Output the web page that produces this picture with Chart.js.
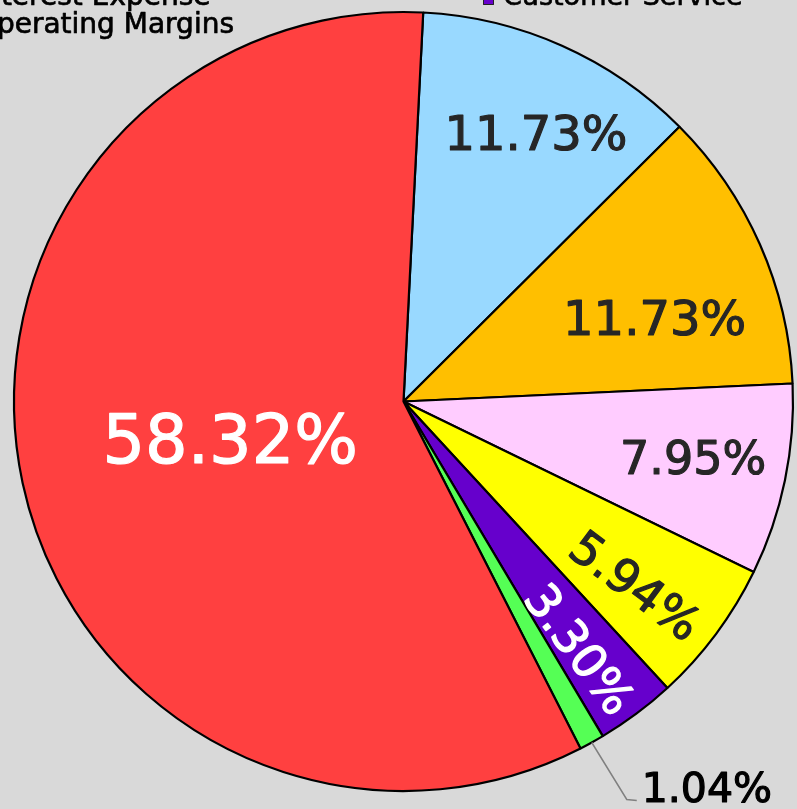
<!DOCTYPE html>
<html><head><meta charset="utf-8">
<script src="https://cdn.jsdelivr.net/npm/chart.js@4.4.0/dist/chart.umd.min.js"></script>
<style>html,body{margin:0;padding:0;background:#d9d9d9;overflow:hidden}#wrap{width:797px;height:809px;position:relative}</style>
</head><body><div id="wrap"><canvas id="c" width="797" height="809" style="width:797px;height:809px"></canvas></div>
<script>
// ---- data ----
const categories = ["Salaries", "Rent & Utilities", "Marketing", "Interest Expense", "Customer Service", "Operating Margins", "Cost of Goods Sold"];
const values = [11.73, 11.73, 7.95, 5.94, 3.30, 1.04, 58.32];
const valueLabels = ["11.73%", "11.73%", "7.95%", "5.94%", "3.30%", "1.04%", "58.32%"];
const legendLeftColumn = ["Interest Expense", "Operating Margins"];
const legendRightColumn = ["Customer Service"];

// ---- styles ----
const colors = ['#99D9FF', '#FFBF00', '#FFCCFF', '#FFFF00', '#6600CC', '#55FF55', '#FF4040'];
const labelColors = ['#262626', '#262626', '#262626', '#262626', '#FFFFFF', '#000000', '#FFFFFF'];
const labelSizes = [48, 48, 46, 47, 47, 41, 67];
const labelRadius = [0.77, 0.68, 0.757, 0.76, 0.78, null, 0.455];
const labelShift = [2.2, 5.2, -0.8, 1.6, 1.1, 0, 0];
const labelRotate = [false, false, false, true, true, false, false];
const FONT = '"DejaVu Sans", "Liberation Sans", sans-serif';

function heavyText(ctx, t, x, y, w) {
  ctx.lineWidth = w;
  ctx.lineJoin = 'round';
  ctx.strokeStyle = ctx.fillStyle;
  ctx.strokeText(t, x, y);
  ctx.fillText(t, x, y);
}

const labelPlugin = {
  id: 'sliceLabels',
  afterDatasetsDraw(chart) {
    const ctx = chart.ctx;
    const meta = chart.getDatasetMeta(0);
    meta.data.forEach((arc, i) => {
      const p = arc.getProps(['x', 'y', 'startAngle', 'endAngle', 'outerRadius'], true);
      const mid = (p.startAngle + p.endAngle) / 2;
      const size = labelSizes[i];
      ctx.save();
      ctx.font = size + 'px ' + FONT;
      if (labelRadius[i] === null) {
        const ex = p.x + p.outerRadius * Math.cos(mid);
        const ey = p.y + p.outerRadius * Math.sin(mid);
        const bx = ex + 35, by = ey + 57;
        const fx = bx + 10, fy = by + 1;
        ctx.strokeStyle = '#808080';
        ctx.lineWidth = 1.5;
        ctx.beginPath();
        ctx.moveTo(ex, ey); ctx.lineTo(bx, by); ctx.lineTo(fx, fy);
        ctx.stroke();
        ctx.fillStyle = labelColors[i];
        ctx.textAlign = 'left';
        ctx.textBaseline = 'alphabetic';
        heavyText(ctx, valueLabels[i], fx + 5, fy + 2, 1.2);
      } else {
        const a = mid + labelShift[i] * Math.PI / 180;
        const r = p.outerRadius * labelRadius[i];
        const cx = p.x + r * Math.cos(a);
        const cy = p.y + r * Math.sin(a);
        ctx.translate(cx, cy);
        if (labelRotate[i]) ctx.rotate(mid);
        ctx.fillStyle = labelColors[i];
        ctx.textAlign = 'center';
        ctx.textBaseline = 'alphabetic';
        heavyText(ctx, valueLabels[i], 0, 0.365 * size, 1.2);
      }
      ctx.restore();
    });
  }
};

const legendPlugin = {
  id: 'croppedLegend',
  afterDraw(chart) {
    const ctx = chart.ctx;
    ctx.save();
    ctx.textAlign = 'left';
    ctx.textBaseline = 'alphabetic';
    const rowBase = [5, 33];
    ctx.font = '28px ' + FONT;
    ctx.fillStyle = '#000';
    const leftX = 234 - ctx.measureText(legendLeftColumn[1]).width;
    legendLeftColumn.forEach((t, k) => heavyText(ctx, t, leftX, rowBase[k], 0.7));
    ctx.font = '27px ' + FONT;
    legendRightColumn.forEach((t, k) => {
      const idx = categories.indexOf(t);
      ctx.fillStyle = colors[idx];
      ctx.fillRect(483, rowBase[k] - 11, 11, 11);
      ctx.strokeStyle = '#222';
      ctx.lineWidth = 1;
      ctx.strokeRect(483.5, rowBase[k] - 10.5, 10, 10);
      ctx.fillStyle = '#000';
      heavyText(ctx, t, 503, rowBase[k], 0.7);
    });
    ctx.restore();
  }
};

new Chart(document.getElementById('c'), {
  type: 'pie',
  data: {
    labels: categories,
    datasets: [{
      data: values,
      backgroundColor: colors,
      borderColor: '#000',
      borderWidth: 2.2
    }]
  },
  options: {
    responsive: false,
    animation: false,
    events: [],
    rotation: 2.9,
    radius: 389.5,
    layout: { padding: { left: 10, right: 0, top: 0, bottom: 6 } },
    plugins: { legend: { display: false }, tooltip: { enabled: false } }
  },
  plugins: [labelPlugin, legendPlugin]
});
</script>
</body></html>
